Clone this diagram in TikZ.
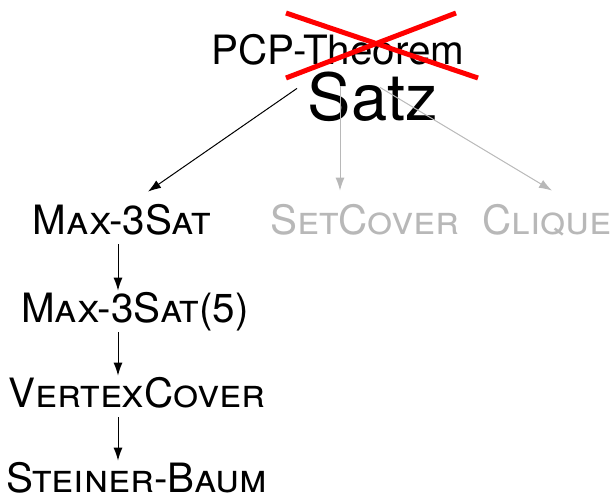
\documentclass[tikz,border=0pt]{standalone}
\usepackage{fontspec}
\setmainfont{TeX Gyre Heros}
\usetikzlibrary{arrows.meta,calc}

\begin{document}
\begin{tikzpicture}[x=0.5pt,y=-0.5pt,
    prob/.style={inner sep=0pt,text height=15.5pt,text depth=5pt,anchor=base,
      font=\fontsize{20.2}{23}\selectfont},
    later/.style={prob,text=black!28},
    crossout/.style={draw=red,line width=2.5pt},
    redux/.style={->,>={Latex[length=6.5pt,width=4.5pt]},line width=0.5pt},
    faded/.style={redux,draw=black!28,>={Latex[length=6.5pt,width=4.5pt,black!28]}}]
  \useasboundingbox (0,0) rectangle (611,495);

  % theorem, crossed out
  \node[prob] (pcp) at (338,64) {PCP-Theorem};
  \draw[crossout] ($(pcp.center)+(-52,-40.5)$) -- ($(pcp.center)+(140,24.5)$);
  \draw[crossout] ($(pcp.center)+(-52,24.5)$) -- ($(pcp.center)+(118,-40.5)$);
  \node[inner sep=0pt,anchor=base,font=\fontsize{32.5}{38}\selectfont]
    (satz) at (373,120) {Satz};

  % reductions
  \node[prob] (max3sat) at (122,234) {\textsc{Max-3Sat}};
  \node[later] (setcover) at (365,234) {\textsc{SetCover}};
  \node[later] (clique) at (547,234) {\textsc{Clique}};
  \node[prob] (max3sat5) at (135,322) {\textsc{Max-3Sat}(5)};
  \node[prob] (vc) at (137,407) {\textsc{VertexCover}};
  \node[prob] (steiner) at (137,492) {\textsc{Steiner-Baum}};
  \coordinate (col) at (118,0);

  \draw[redux] ($(pcp.south)+(-41,14)$) -- ($(max3sat.north)+(26,-11)$);
  \draw[faded] ($(pcp.south)+(2,12)$) -- ($(setcover.north)+(-25,-12)$);
  \draw[faded] ($(pcp.south)+(42,13)$) -- ($(clique.north)+(5,-12)$);

  \draw[redux] (max3sat.south -| col) -- (max3sat5.north -| col);
  \draw[redux] (max3sat5.south -| col) -- (vc.north -| col);
  \draw[redux] (vc.south -| col) -- (steiner.north -| col);
\end{tikzpicture}
\end{document}
